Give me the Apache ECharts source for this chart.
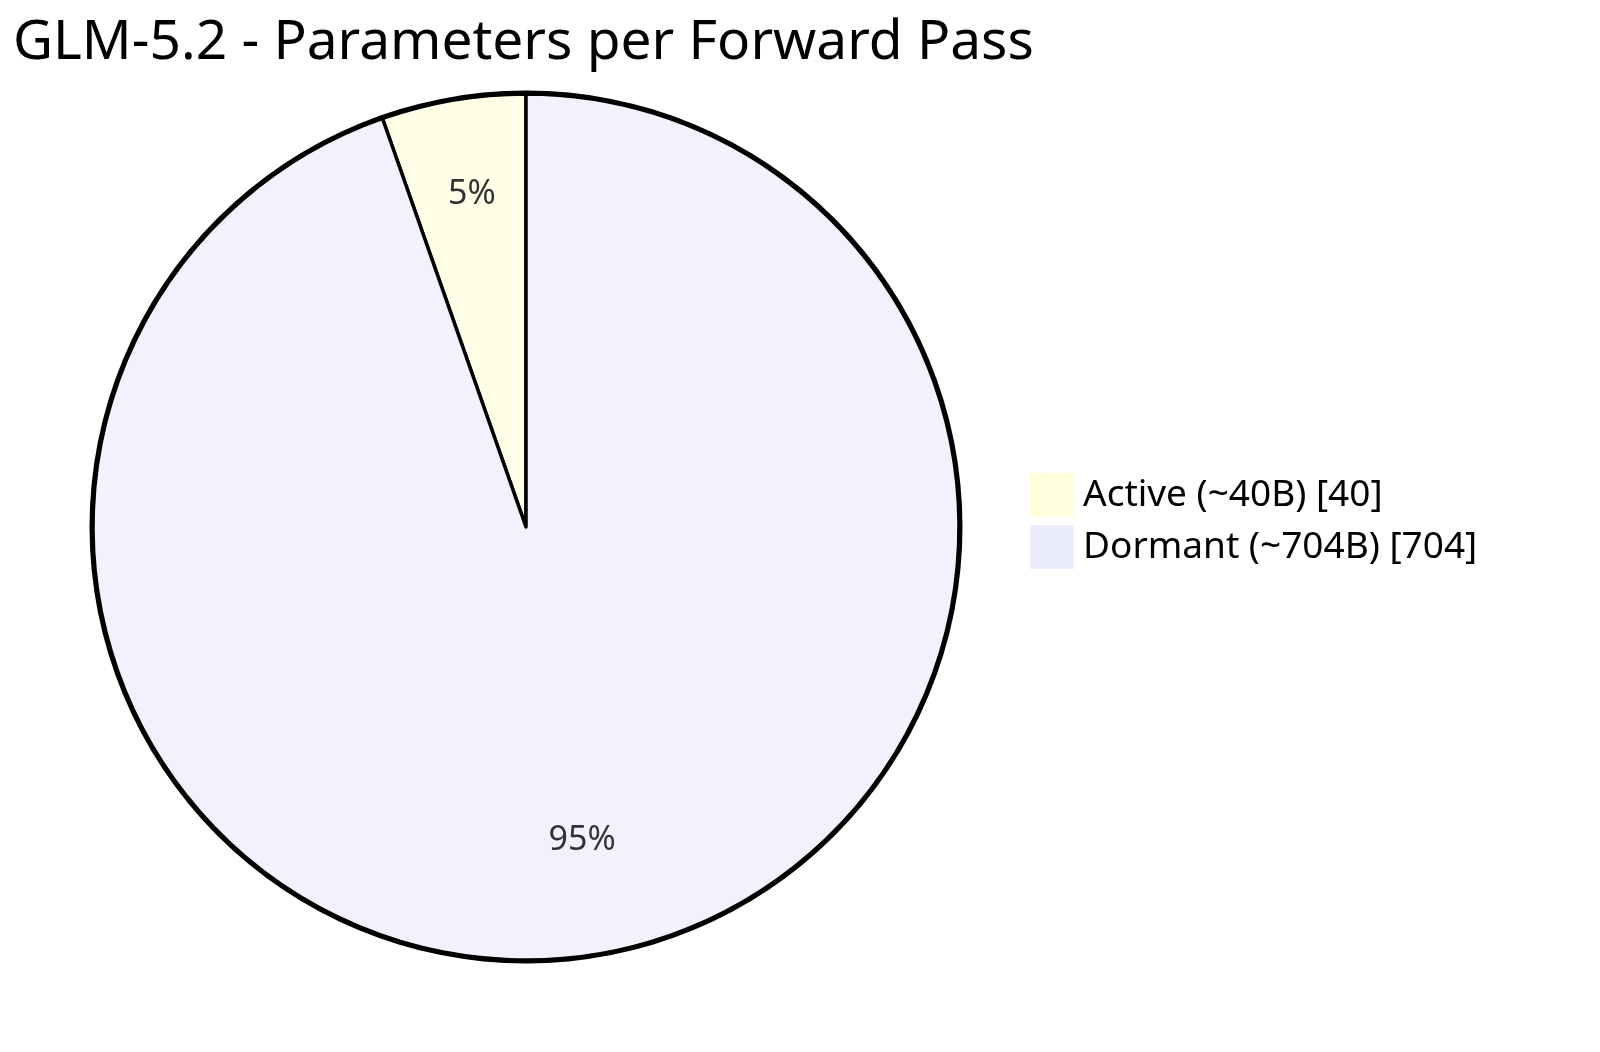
<!DOCTYPE html>
<html>
<head>
<meta charset="utf-8">
<script src="https://cdn.jsdelivr.net/npm/echarts@6/dist/echarts.min.js"></script>
<style>
  html, body { margin: 0; padding: 0; background: #fff; }
  #main { width: 1600px; height: 1052px; }
</style>
</head>
<body>
<div id="main"></div>
<script>
var names = ['Active (~40B) [40]', 'Dormant (~704B) [704]'];
var values = [40, 704];
var sliceColors = ['#ffffe8', '#f2f2ff'];
var legendColors = ['#ffffde', '#ececff'];

var FONT = '"Noto Sans", sans-serif';
var myChart = echarts.init(document.getElementById('main'));

var pieData = [];
var labelData = [];
var legendData = [];
for (var i = 0; i < names.length; i++) {
    pieData.push({ name: names[i], value: values[i], itemStyle: { color: sliceColors[i] } });
    labelData.push({ name: names[i], value: values[i] });
    legendData.push({ name: names[i], itemStyle: { color: legendColors[i], borderWidth: 0 } });
}

var center = [526, 527];
var R = 433;

var option = {
    animation: false,
    title: {
        text: 'GLM-5.2 - Parameters per Forward Pass',
        left: 8,
        top: 11,
        textStyle: { fontFamily: FONT, fontSize: 55, fontWeight: 'normal', color: '#000' }
    },
    legend: {
        orient: 'vertical',
        left: 1025,
        top: 468,
        icon: 'rect',
        itemWidth: 44,
        itemHeight: 44,
        itemGap: 8,
        selectedMode: false,
        itemStyle: { borderWidth: 0 },
        textStyle: { fontFamily: FONT, fontSize: 37, color: '#000', padding: [2, 0, 0, 4] },
        data: legendData
    },
    series: [
        {
            // outer ring
            type: 'pie',
            silent: true,
            center: center,
            radius: [R - 1.5, R + 3.5],
            label: { show: false },
            labelLine: { show: false },
            itemStyle: { color: '#000' },
            data: [{ name: 'ring', value: 1 }]
        },
        {
            type: 'pie',
            center: center,
            radius: [0, R],
            startAngle: 90,
            clockwise: false,
            silent: true,
            label: { show: false },
            labelLine: { show: false },
            itemStyle: { borderColor: '#000', borderWidth: 3.5 },
            data: pieData
        },
        {
            // labels at 0.75 of the radius
            type: 'pie',
            center: center,
            radius: [R * 0.5, R],
            startAngle: 90,
            clockwise: false,
            silent: true,
            itemStyle: { color: 'rgba(0,0,0,0)', borderWidth: 0 },
            labelLine: { show: false },
            label: {
                show: true,
                position: 'inside',
                offset: [1, -10],
                fontFamily: FONT,
                fontSize: 34,
                color: '#333',
                formatter: function (p) {
                    return Math.round(p.percent) + '%';
                }
            },
            data: labelData
        }
    ]
};
myChart.setOption(option);
</script>
</body>
</html>
